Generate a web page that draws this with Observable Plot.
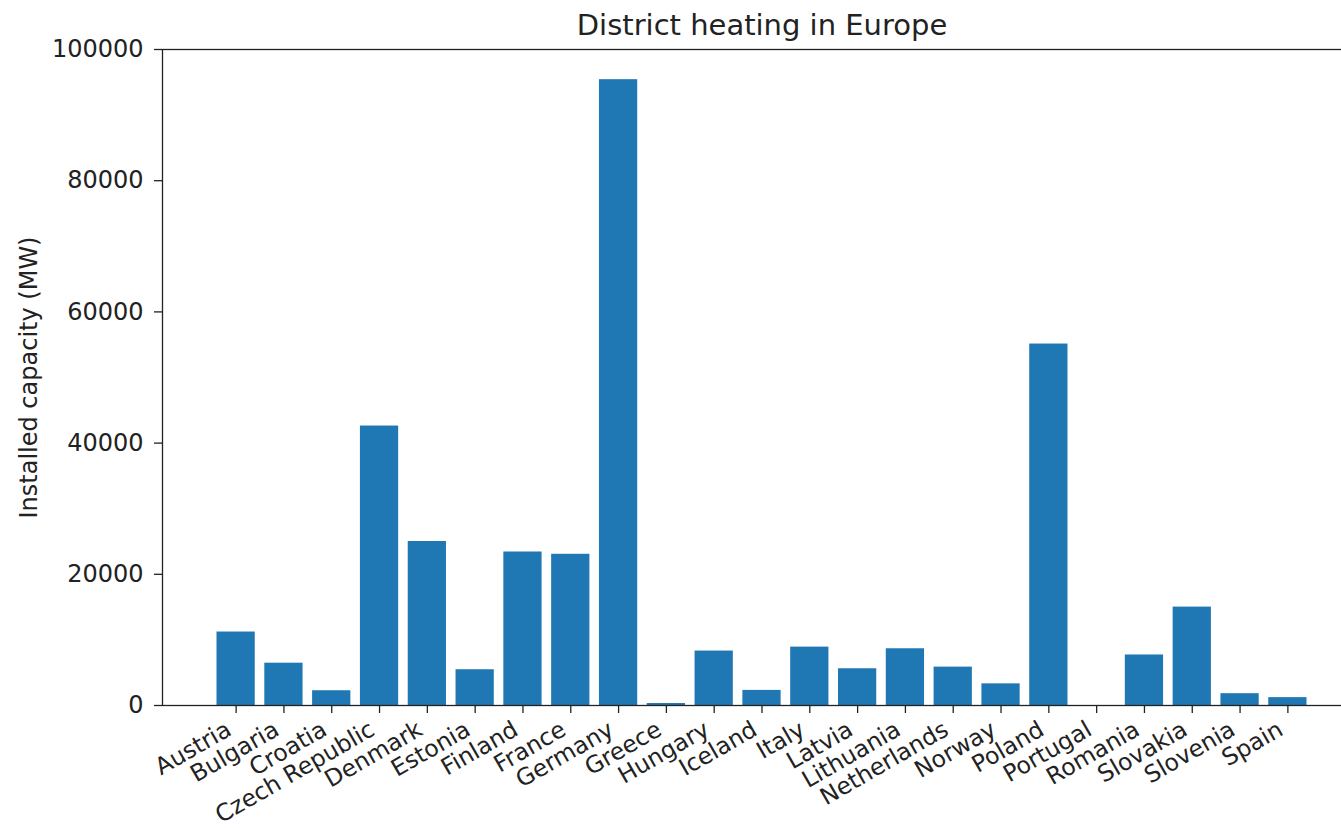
<!DOCTYPE html>
<html>
<head>
<meta charset="utf-8">
<script src="https://cdn.jsdelivr.net/npm/d3@7"></script>
<script src="https://cdn.jsdelivr.net/npm/@observablehq/plot@0.6"></script>
<style>
  html, body { margin: 0; padding: 0; background: #fff; overflow: hidden; }
  #chart { width: 1341px; height: 828px; overflow: hidden; }
</style>
</head>
<body>
<div id="chart"></div>
<script>
// Installed district-heating capacity per country (MW)
const countries = [
  "Austria", "Bulgaria", "Croatia", "Czech Republic", "Denmark", "Estonia",
  "Finland", "France", "Germany", "Greece", "Hungary", "Iceland", "Italy",
  "Latvia", "Lithuania", "Netherlands", "Norway", "Poland", "Portugal",
  "Romania", "Slovakia", "Slovenia", "Spain"
];
const capacity = [
  11200, 6450, 2250, 42600, 25000, 5450,
  23400, 23050, 95400, 300, 8300, 2300, 8900,
  5600, 8650, 5850, 3300, 55100, 0,
  7700, 15000, 1800, 1200
];
const yTicks = [0, 20000, 40000, 60000, 80000, 100000];
const chartTitle = "District heating in Europe";
const yLabel = "Installed capacity (MW)";

const rows = countries.map((country, i) => ({country, capacity: capacity[i]}));

const ink = "#222";

const chart = Plot.plot({
  width: 1341,
  height: 828,
  marginLeft: 162,
  marginRight: -20,
  marginTop: 49,
  marginBottom: 123,
  style: {
    fontFamily: "'DejaVu Sans', sans-serif",
    fontSize: "24px",
    color: ink,
    background: "#fff",
    overflow: "hidden"
  },
  x: {domain: countries, paddingInner: 0.2, paddingOuter: 1.14, align: 0.5, round: false, label: null},
  y: {domain: [0, 100000], label: null},
  marks: [
    Plot.barY(rows, {x: "country", y: "capacity", fill: "#1f77b4"}),
    Plot.frame({stroke: ink, strokeWidth: 1.3}),
    Plot.axisY({
      ticks: yTicks, tickSize: 8, tickPadding: 11, strokeWidth: 1.3,
      tickFormat: d => String(d), label: null
    }),
    // x tick marks
    Plot.axisX({tickSize: 8, strokeWidth: 1.3, text: null, label: null}),
    // rotated country names
    Plot.axisX({
      tickSize: 0, tickRotate: -30, tickPadding: 22, dx: -7,
      fontSize: 23.5, label: null
    }),
    Plot.text([yLabel], {
      frameAnchor: "left", textAnchor: "middle", rotate: -90, dx: -133,
      fill: ink, fontSize: 24
    }),
    Plot.text([chartTitle], {
      frameAnchor: "top", lineAnchor: "bottom", dy: -15, fill: ink, fontSize: 29
    })
  ]
});

document.getElementById("chart").appendChild(chart);
</script>
</body>
</html>
